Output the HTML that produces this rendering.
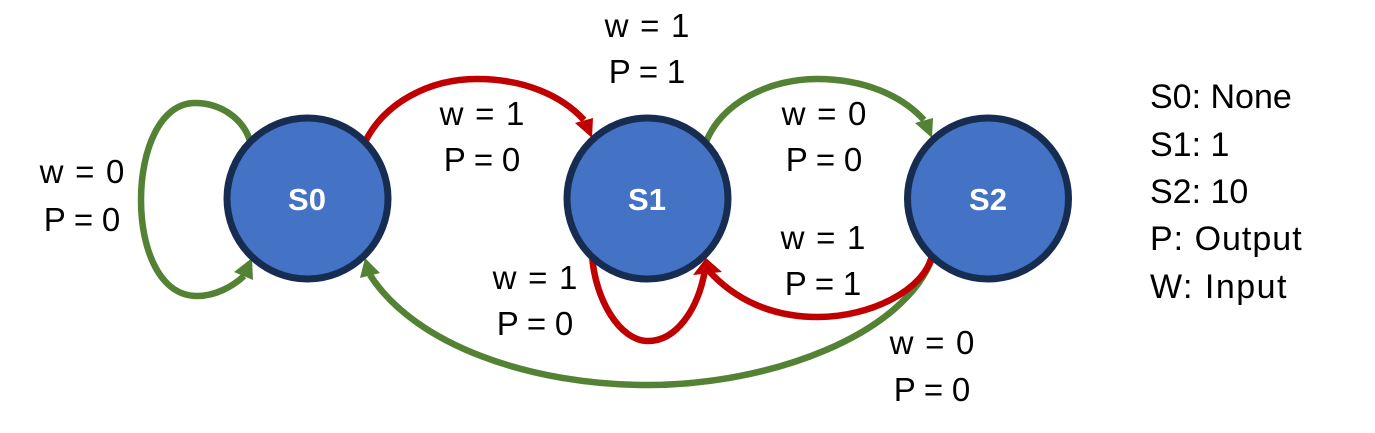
<!DOCTYPE html>
<html lang="en">
<head>
<meta charset="utf-8">
<title>State diagram</title>
<style>
html,body{margin:0;padding:0;background:#fff;width:1375px;height:433px;overflow:hidden}
svg{display:block}
text{font-family:"Liberation Sans",sans-serif;fill:#000}
.lab{font-size:33px;text-anchor:middle}
.w{word-spacing:2.5px}
.p{word-spacing:-.5px}
.leg{font-size:34px}
.st{font-size:31px;font-weight:bold;text-anchor:middle;fill:#fff}
.node{fill:#4472c4;stroke:#172c51;stroke-width:7}
.edge{fill:none;stroke-width:6.5}
.g{stroke:#548235}.r{stroke:#c00000}
.hg{fill:#548235}.hr{fill:#c00000}
</style>
</head>
<body>
<svg width="1375" height="433" viewBox="0 0 1375 433">

<path class="edge g" d="M933 256C905 335 770 385 648 385C530 385 415 345 370 275"/>
<polygon class="hg" points="365,258 360,278 380,273"/>
<path class="edge g" d="M250 141C243 118 220 103 195 103C160 103 141 150 141 200C141 250 160 296 197 296C215 296 232 287 244 276"/>
<polygon class="hg" points="234,272 252,258 253,280"/>
<path class="edge r" d="M365 142C385 102 430 79 477 79C525 79 562 96 584 120"/>
<polygon class="hr" points="592,138 575,123 593,118"/>
<path class="edge g" d="M706 142C722 102 770 79 817 79C865 79 902 96 924 120"/>
<polygon class="hg" points="932,138 915,123 933,118"/>
<path class="edge r" d="M592 255C595 300 620 341 648 341C676 341 698 310 705 270"/>
<path class="edge r" d="M932 255C925 290 870 317 818 317C772 317 735 300 708 270"/>
<polygon class="hr" points="706,258 693,275 722,272"/>

<circle class="node" cx="307.5" cy="198.5" r="80.5"/>
<circle class="node" cx="647.5" cy="198.5" r="80.5"/>
<circle class="node" cx="988" cy="198.5" r="80.5"/>
<text class="st" x="307" y="210">S0</text>
<text class="st" x="647" y="210">S1</text>
<text class="st" x="988" y="210">S2</text>

<g><text class="lab w" x="82" y="183">w = 0</text><text class="lab p" x="82" y="231">P = 0</text></g>
<g><text class="lab w" x="482" y="125">w = 1</text><text class="lab p" x="482" y="171">P = 0</text></g>
<g><text class="lab w" x="647" y="37">w = 1</text><text class="lab p" x="647" y="83">P = 1</text></g>
<g><text class="lab w" x="824" y="125">w = 0</text><text class="lab p" x="824" y="171">P = 0</text></g>
<g><text class="lab w" x="823" y="249">w = 1</text><text class="lab p" x="823" y="295">P = 1</text></g>
<g><text class="lab w" x="535" y="289">w = 1</text><text class="lab p" x="535" y="335">P = 0</text></g>
<g><text class="lab w" x="932" y="354">w = 0</text><text class="lab p" x="932" y="401">P = 0</text></g>

<g>
<text class="leg" x="1150" y="108">S0: None</text>
<text class="leg" x="1150" y="156">S1: 1</text>
<text class="leg" x="1150" y="203">S2: 10</text>
<text class="leg" x="1150" y="250" style="letter-spacing:1px">P: Output</text>
<text class="leg" x="1150" y="298" style="letter-spacing:1.5px">W: Input</text>
</g>
</svg>
</body>
</html>
